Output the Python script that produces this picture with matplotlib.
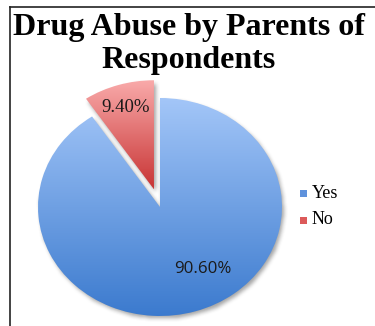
import numpy as np
import matplotlib
matplotlib.use("Agg")
import matplotlib.pyplot as plt
from matplotlib.patches import Rectangle
from matplotlib.colors import to_rgb

# Data
categories = ["Yes", "No"]
shares = [90.6, 9.4]
title_lines = ["Drug Abuse by Parents of", "Respondents"]

# Gradient colours (top, bottom) per slice
grad_colors = [("#a3c6f8", "#3b7ace"), ("#f9aaaa", "#c83434")]
legend_colors = ["#5f92dc", "#dc5a5a"]

W, H = 375, 326
fig = plt.figure(figsize=(W / 100, H / 100), dpi=100)
fig.patch.set_facecolor("white")
ax = fig.add_axes([0, 0, 1, 1])

wedges, _ = ax.pie(shares, startangle=90, counterclock=False,
                   explode=[0, 0.17], radius=1.0)

# Pie centre at (160, 207) px, radii 122 px horizontally, 109 px vertically
cx_px, cy_px, rx_px, ry_px = 160, 207, 122, 109
xmin = -cx_px / rx_px
xmax = xmin + W / rx_px
ymin = -(H - cy_px) / ry_px
ymax = ymin + H / ry_px


def set_limits():
    ax.set_aspect("auto")
    ax.set_xlim(xmin, xmax)
    ax.set_ylim(ymin, ymax)
    ax.set_axis_off()


set_limits()
fig.canvas.draw()

# Soft drop shadow under the slices
xs = np.linspace(xmin, xmax, W)
ys = np.linspace(ymax, ymin, H)
gx, gy = np.meshgrid(xs, ys)
pts = np.column_stack([gx.ravel(), gy.ravel()])
mask = np.zeros(W * H, dtype=float)
for w in wedges:
    p = w.get_path()
    mask = np.maximum(mask, p.contains_points(pts).astype(float))
mask = mask.reshape(H, W)
shift_x, shift_y = 2, 3
mask = np.roll(np.roll(mask, shift_y, axis=0), shift_x, axis=1)


def box_blur(a, k):
    out = a.copy()
    for axis in (0, 1):
        pad = [(0, 0), (0, 0)]
        pad[axis] = (k, k)
        b = np.pad(out, pad, mode="constant")
        c = np.cumsum(b, axis=axis)
        c = np.insert(c, 0, 0, axis=axis)
        n = out.shape[axis]
        idx_hi = np.arange(n) + 2 * k + 1
        idx_lo = np.arange(n)
        out = (np.take(c, idx_hi, axis=axis) - np.take(c, idx_lo, axis=axis)) / (2 * k + 1)
    return out


shadow = box_blur(box_blur(mask, 2), 2)
rgba = np.zeros((H, W, 4))
rgba[..., :3] = 0.35
rgba[..., 3] = shadow * 0.55
ax.imshow(rgba, extent=(xmin, xmax, ymin, ymax), zorder=0.5,
          interpolation="bilinear")

# Gradient fills clipped to each wedge
for w, (ctop, cbot) in zip(wedges, grad_colors):
    verts = w.get_path().vertices
    x0, x1 = verts[:, 0].min(), verts[:, 0].max()
    y0, y1 = verts[:, 1].min(), verts[:, 1].max()
    t = np.linspace(0, 1, 256)[:, None]
    top = np.array(to_rgb(ctop))
    bot = np.array(to_rgb(cbot))
    img = (top[None, None, :] * (1 - t[..., None]) + bot[None, None, :] * t[..., None])
    img = np.repeat(img, 4, axis=1)
    w.set_facecolor("none")
    w.set_edgecolor("none")
    w.set_zorder(2)
    im = ax.imshow(img, extent=(x0, x1, y0, y1), zorder=1.5,
                   interpolation="bilinear")
    im.set_clip_path(w)

set_limits()

# Percentage labels
label_pos = [(203, 269), (126, 108)]
label_fams = [["Open Sans", "DejaVu Sans"], ["Liberation Serif", "DejaVu Serif"]]
label_sizes = [12.2, 13.5]
for v, (px, py), fam, fs in zip(shares, label_pos, label_fams, label_sizes):
    fig.text(px / W, 1 - py / H, f"{v:.2f}%", ha="center", va="center",
             fontsize=fs, family=fam, color="#1a1a1a", zorder=5)

# Title
for i, line in enumerate(title_lines):
    fig.text(189 / W, 1 - (35 + 33 * i) / H, line, ha="center",
             va="baseline", fontsize=23, fontweight="bold",
             family=["Liberation Serif", "DejaVu Serif"], color="black")

# Legend
for i, (cat, col) in enumerate(zip(categories, legend_colors)):
    yc = 193 + 27 * i
    fig.patches.append(Rectangle((300 / W, 1 - (yc + 3.5) / H), 7 / W, 7 / H,
                                 transform=fig.transFigure, facecolor=col,
                                 edgecolor="none"))
    fig.text(312 / W, 1 - yc / H, cat, ha="left", va="center", fontsize=13,
             family=["Liberation Serif", "DejaVu Serif"], color="black")

# Frame lines (top and left)
fig.lines.append(plt.Line2D([10 / W, 1], [1 - 7 / H, 1 - 7 / H],
                            transform=fig.transFigure, color="#222222", lw=1.2))
fig.lines.append(plt.Line2D([10 / W, 10 / W], [0, 1 - 7 / H],
                            transform=fig.transFigure, color="#222222", lw=1.2))

fig.savefig("out.png", dpi=100)
